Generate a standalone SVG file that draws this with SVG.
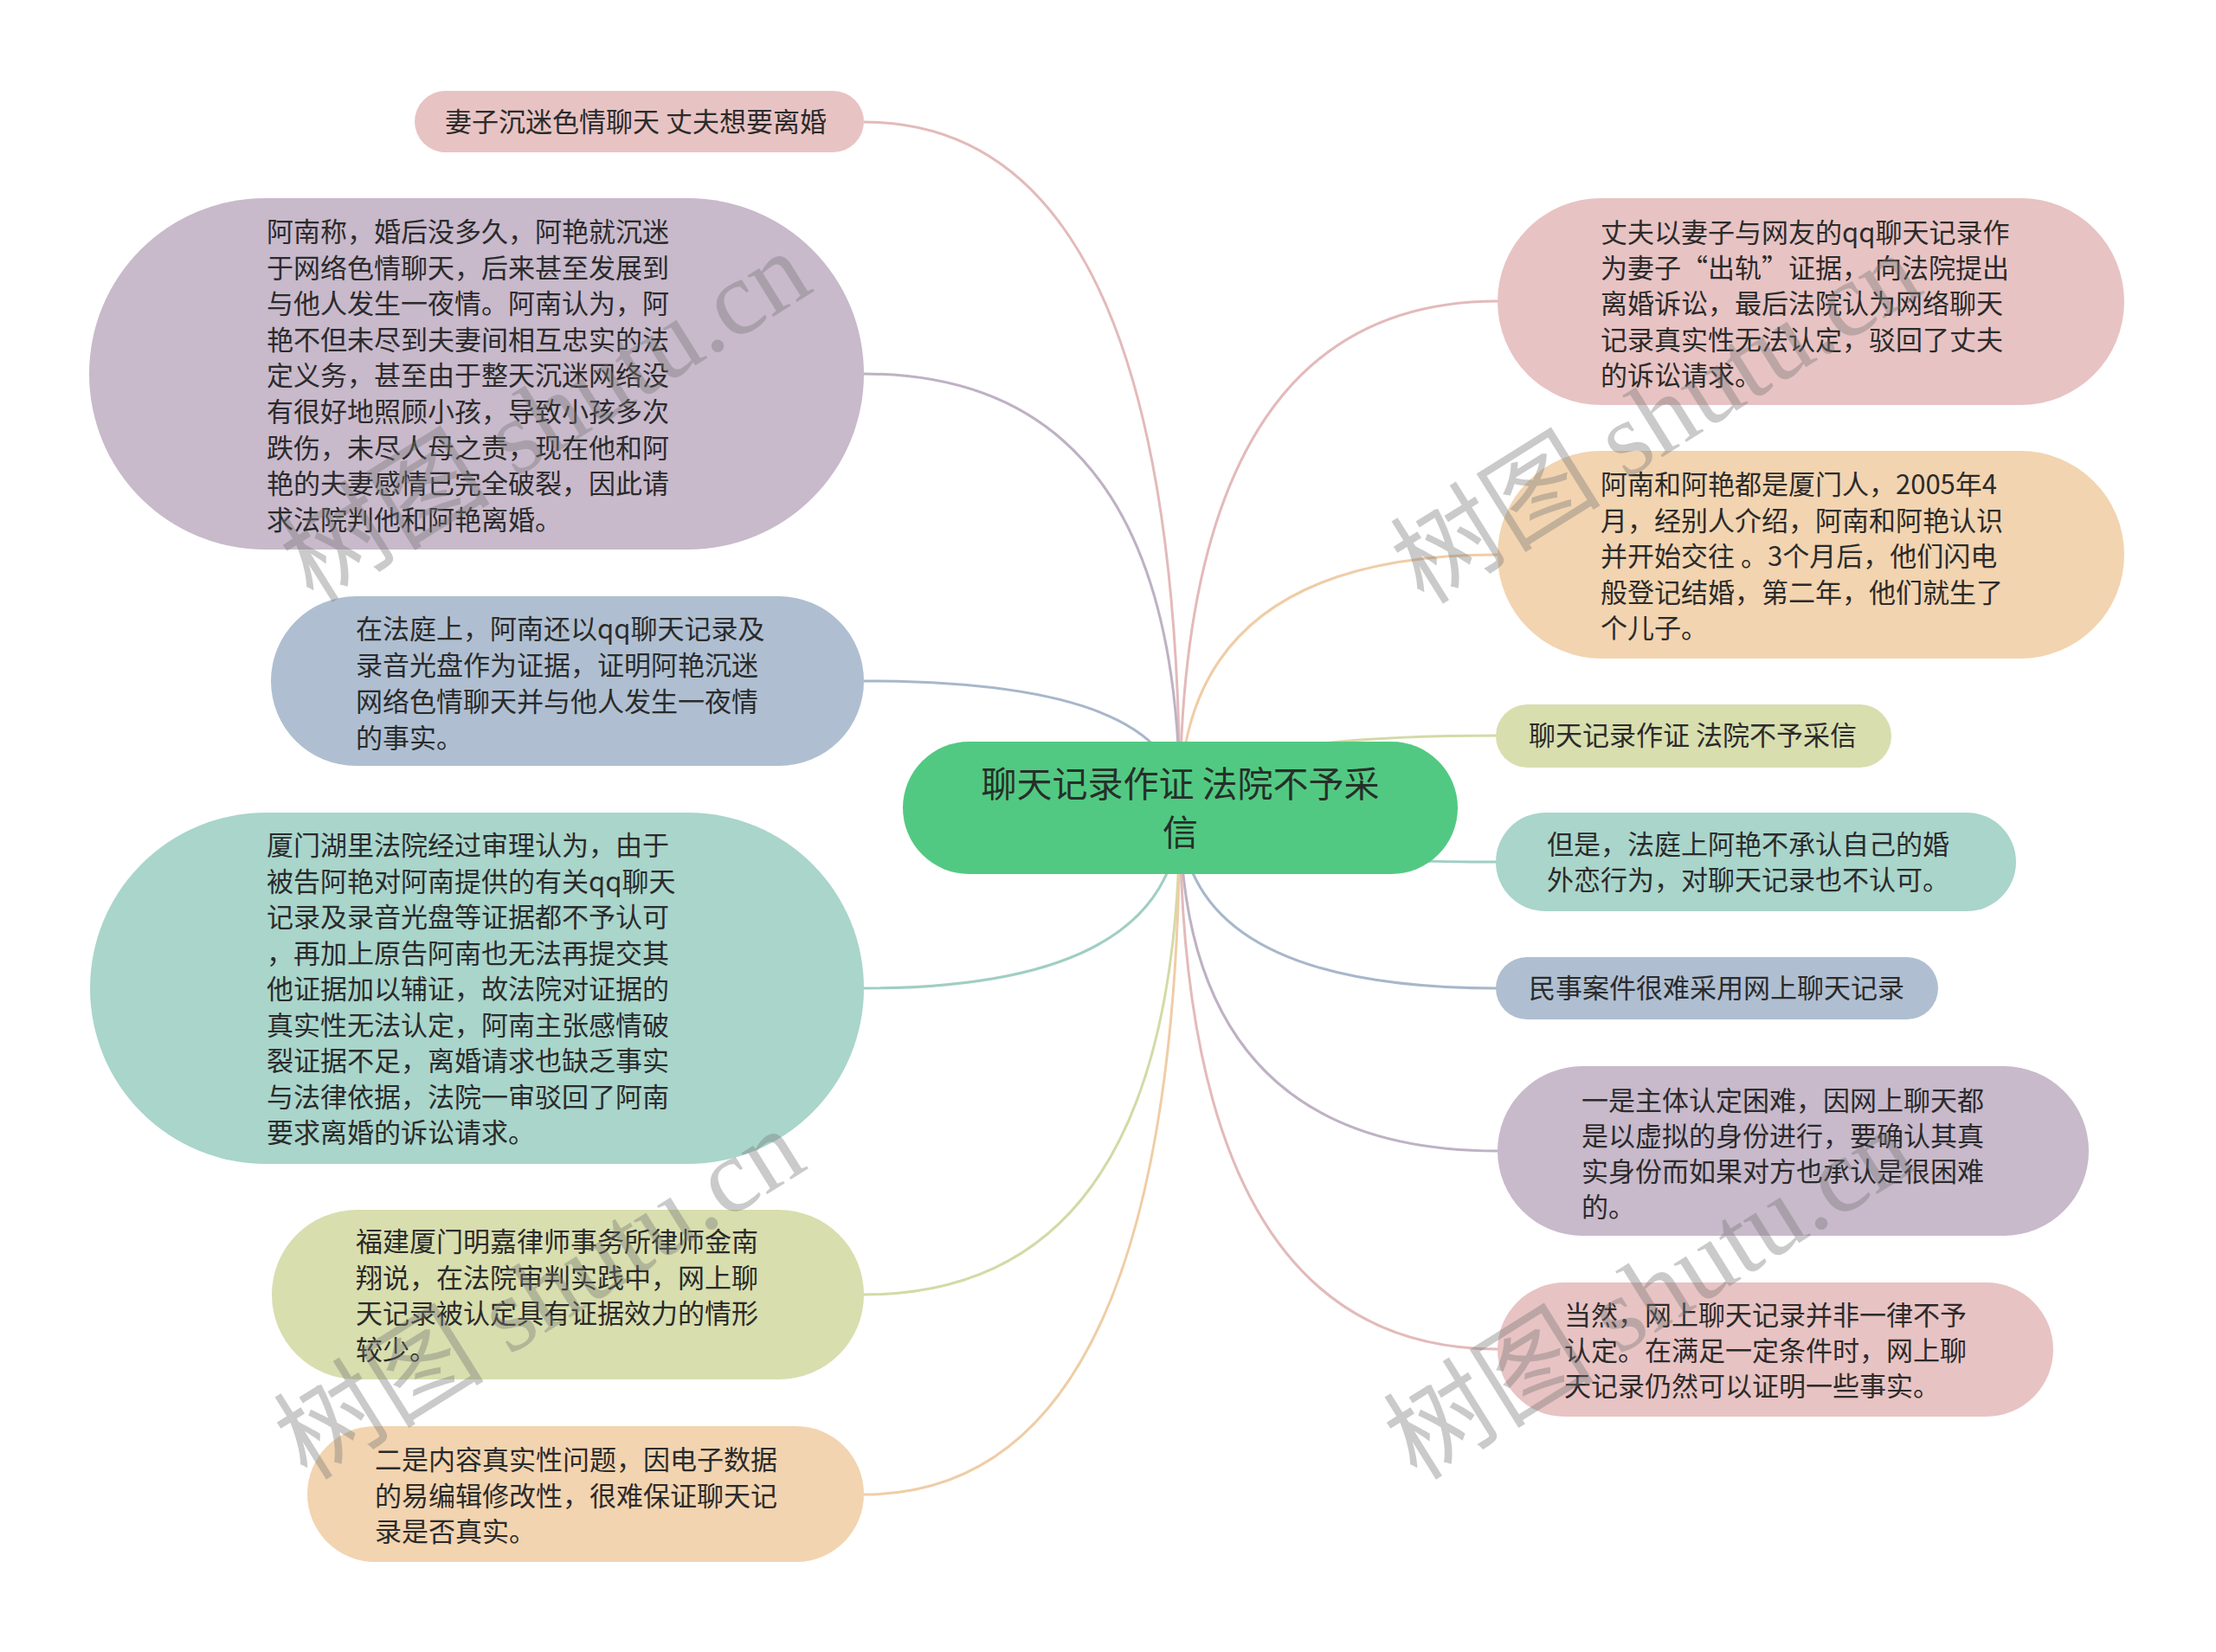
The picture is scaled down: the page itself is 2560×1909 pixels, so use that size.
<svg xmlns="http://www.w3.org/2000/svg" width="2560" height="1909" viewBox="0 0 2560 1909">
<style>
.n text{font-family:"Noto Sans CJK SC","Noto Sans",sans-serif;font-size:31px;fill:#2b2b2b}
#root text{font-size:41px;fill:#262f29}
.c path{fill:none;stroke-width:3}
.pink{fill:#e8c3c3}.purple{fill:#c8b9cb}.blue{fill:#afbfd1}.teal{fill:#a9d5cb}.olive{fill:#d8deae}.orange{fill:#f2d4b0}
.wm{font-family:"Liberation Serif","Noto Sans CJK SC",serif;font-size:122px;fill:#777;opacity:0.38}
</style>
<rect width="2560" height="1909" fill="#ffffff"/>
<g id="connectors" class="c">
<path d="M998 141 Q1363 141 1363 933" stroke="#e3baba"/>
<path d="M998 432 Q1363 432 1363 933" stroke="#bfb1c4"/>
<path d="M998 787 Q1363 787 1363 933" stroke="#a7b7cb"/>
<path d="M998 1142 Q1363 1142 1363 933" stroke="#a0cec3"/>
<path d="M998 1496 Q1363 1496 1363 933" stroke="#d3daa6"/>
<path d="M998 1727 Q1363 1727 1363 933" stroke="#efcda6"/>
<path d="M1730 348 Q1363 348 1363 933" stroke="#e3baba"/>
<path d="M1730 641 Q1363 641 1363 933" stroke="#efcda6"/>
<path d="M1730 850 Q1363 850 1363 933" stroke="#d3daa6"/>
<path d="M1730 996 Q1363 996 1363 933" stroke="#a0cec3"/>
<path d="M1730 1142 Q1363 1142 1363 933" stroke="#a7b7cb"/>
<path d="M1730 1330 Q1363 1330 1363 933" stroke="#bfb1c4"/>
<path d="M1730 1559 Q1363 1559 1363 933" stroke="#e3baba"/>
</g>
<g id="root" class="n">
<rect x="1043" y="857" width="641" height="153" rx="76.5" fill="#52c982"/>
<text x="1363.5" text-anchor="middle"><tspan x="1363.5" y="921">聊天记录作证 法院不予采</tspan><tspan x="1363.5" y="977">信</tspan></text>
</g>
<g id="L1" class="n">
<rect class="pink" x="479" y="105" width="519" height="71" rx="35.5"/>
<text x="514" y="152">妻子沉迷色情聊天 丈夫想要离婚</text>
</g>
<g id="L2" class="n">
<rect class="purple" x="103" y="229" width="895" height="406" rx="203"/>
<text><tspan x="308" y="279">阿南称，婚后没多久，阿艳就沉迷</tspan><tspan x="308" dy="41.6">于网络色情聊天，后来甚至发展到</tspan><tspan x="308" dy="41.6">与他人发生一夜情。阿南认为，阿</tspan><tspan x="308" dy="41.6">艳不但未尽到夫妻间相互忠实的法</tspan><tspan x="308" dy="41.6">定义务，甚至由于整天沉迷网络没</tspan><tspan x="308" dy="41.6">有很好地照顾小孩，导致小孩多次</tspan><tspan x="308" dy="41.6">跌伤，未尽人母之责，现在他和阿</tspan><tspan x="308" dy="41.6">艳的夫妻感情已完全破裂，因此请</tspan><tspan x="308" dy="41.6">求法院判他和阿艳离婚。</tspan></text>
</g>
<g id="L3" class="n">
<rect class="blue" x="313" y="689" width="685" height="196" rx="98"/>
<text><tspan x="411" y="738">在法庭上，阿南还以qq聊天记录及</tspan><tspan x="411" dy="42">录音光盘作为证据，证明阿艳沉迷</tspan><tspan x="411" dy="42">网络色情聊天并与他人发生一夜情</tspan><tspan x="411" dy="42">的事实。</tspan></text>
</g>
<g id="L4" class="n">
<rect class="teal" x="104" y="939" width="894" height="406" rx="203"/>
<text><tspan x="308" y="988">厦门湖里法院经过审理认为，由于</tspan><tspan x="308" dy="41.5">被告阿艳对阿南提供的有关qq聊天</tspan><tspan x="308" dy="41.5">记录及录音光盘等证据都不予认可</tspan><tspan x="308" dy="41.5">，再加上原告阿南也无法再提交其</tspan><tspan x="308" dy="41.5">他证据加以辅证，故法院对证据的</tspan><tspan x="308" dy="41.5">真实性无法认定，阿南主张感情破</tspan><tspan x="308" dy="41.5">裂证据不足，离婚请求也缺乏事实</tspan><tspan x="308" dy="41.5">与法律依据，法院一审驳回了阿南</tspan><tspan x="308" dy="41.5">要求离婚的诉讼请求。</tspan></text>
</g>
<g id="L5" class="n">
<rect class="olive" x="314" y="1398" width="684" height="196" rx="98"/>
<text><tspan x="411" y="1446">福建厦门明嘉律师事务所律师金南</tspan><tspan x="411" dy="41.7">翔说，在法院审判实践中，网上聊</tspan><tspan x="411" dy="41.7">天记录被认定具有证据效力的情形</tspan><tspan x="411" dy="41.7">较少。</tspan></text>
</g>
<g id="L6" class="n">
<rect class="orange" x="355" y="1648" width="643" height="157" rx="78.5"/>
<text><tspan x="433" y="1698">二是内容真实性问题，因电子数据</tspan><tspan x="433" dy="41.5">的易编辑修改性，很难保证聊天记</tspan><tspan x="433" dy="41.5">录是否真实。</tspan></text>
</g>
<g id="R1" class="n">
<rect class="pink" x="1730" y="229" width="724" height="239" rx="119.5"/>
<text><tspan x="1849" y="280">丈夫以妻子与网友的qq聊天记录作</tspan><tspan x="1849" dy="41.2">为妻子“出轨”证据， 向法院提出</tspan><tspan x="1849" dy="41.2">离婚诉讼，最后法院认为网络聊天</tspan><tspan x="1849" dy="41.2">记录真实性无法认定，驳回了丈夫</tspan><tspan x="1849" dy="41.2">的诉讼请求。</tspan></text>
</g>
<g id="R2" class="n">
<rect class="orange" x="1730" y="521" width="724" height="240" rx="120"/>
<text><tspan x="1849" y="571">阿南和阿艳都是厦门人，2005年4</tspan><tspan x="1849" dy="41.6">月，经别人介绍，阿南和阿艳认识</tspan><tspan x="1849" dy="41.6">并开始交往 。3个月后，他们闪电</tspan><tspan x="1849" dy="41.6">般登记结婚，第二年，他们就生了</tspan><tspan x="1849" dy="41.6">个儿子。</tspan></text>
</g>
<g id="R3" class="n">
<rect class="olive" x="1728" y="814" width="457" height="73" rx="36.5"/>
<text x="1766" y="861">聊天记录作证 法院不予采信</text>
</g>
<g id="R4" class="n">
<rect class="teal" x="1728" y="939" width="601" height="114" rx="57"/>
<text><tspan x="1787" y="987">但是，法庭上阿艳不承认自己的婚</tspan><tspan x="1787" dy="41">外恋行为，对聊天记录也不认可。</tspan></text>
</g>
<g id="R5" class="n">
<rect class="blue" x="1728" y="1106" width="511" height="72" rx="36"/>
<text x="1766" y="1153">民事案件很难采用网上聊天记录</text>
</g>
<g id="R6" class="n">
<rect class="purple" x="1730" y="1232" width="683" height="196" rx="98"/>
<text><tspan x="1827" y="1283">一是主体认定困难，因网上聊天都</tspan><tspan x="1827" dy="41">是以虚拟的身份进行，要确认其真</tspan><tspan x="1827" dy="41">实身份而如果对方也承认是很困难</tspan><tspan x="1827" dy="41">的。</tspan></text>
</g>
<g id="R7" class="n">
<rect class="pink" x="1730" y="1482" width="642" height="155" rx="77.5"/>
<text><tspan x="1807" y="1531">当然，网上聊天记录并非一律不予</tspan><tspan x="1807" dy="41">认定。在满足一定条件时，网上聊</tspan><tspan x="1807" dy="41">天记录仍然可以证明一些事实。</tspan></text>
</g>
<g id="watermarks">
<text class="wm" transform="translate(362 698) rotate(-32)">树图 shutu.cn</text>
<text class="wm" transform="translate(1645 700) rotate(-32)">树图 shutu.cn</text>
<text class="wm" transform="translate(355 1712) rotate(-32)">树图 shutu.cn</text>
<text class="wm" transform="translate(1637 1712) rotate(-32)">树图 shutu.cn</text>
</g>
</svg>
